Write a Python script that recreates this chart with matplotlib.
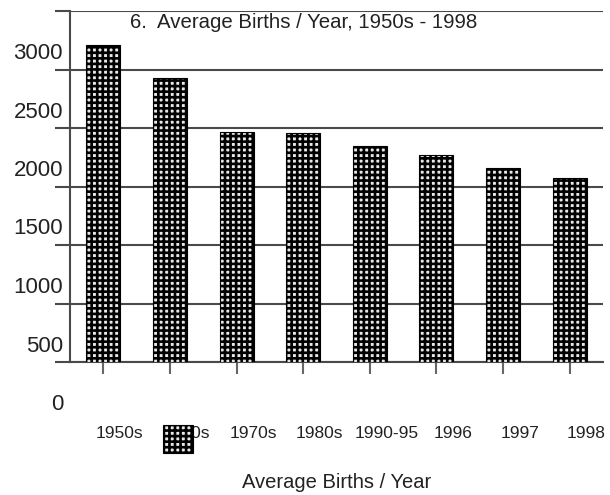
import matplotlib
matplotlib.use("Agg")
import matplotlib.pyplot as plt
from matplotlib.transforms import ScaledTranslation

categories = ["1950s", "1960s", "1970s", "1980s", "1990-95", "1996", "1997", "1998"]
births = [2709, 2427, 1968, 1960, 1846, 1769, 1658, 1573]
yticks = [0, 500, 1000, 1500, 2000, 2500, 3000]
title = "6.  Average Births / Year, 1950s - 1998"
xlabel = "Average Births / Year"

plt.rcParams['font.family'] = ['Liberation Sans', 'DejaVu Sans']
plt.rcParams['hatch.linewidth'] = 1.9

W, H = 610, 495
fig = plt.figure(figsize=(W / 100, H / 100), dpi=100)
ax = fig.add_axes([70 / W, 1 - 362 / H, (603 - 70) / W, (362 - 11) / H])

x = list(range(len(categories)))
bars = ax.bar(x, births, width=0.51, color='#e8e8e8', edgecolor='black',
              hatch='+++', linewidth=0.8, zorder=3)

ax.set_xlim(-0.5, len(categories) - 0.5)
ax.set_ylim(0, 3000)
ax.set_yticks(yticks)
ax.set_yticklabels([str(v) for v in yticks])
ax.set_xticks(x)
ax.set_xticklabels(categories)

gcol = '#4a4a4a'
ax.grid(axis='y', color=gcol, linewidth=1.5, zorder=1)
for s in ['top', 'right']:
    ax.spines[s].set_visible(False)
ax.spines['left'].set_color(gcol)
ax.spines['left'].set_linewidth(1.5)
ax.spines['bottom'].set_color(gcol)
ax.spines['bottom'].set_linewidth(1.5)

ax.tick_params(axis='y', direction='out', length=15 * 0.72, width=1.5,
               color=gcol, pad=-8 * 0.72, labelsize=16, labelcolor='#222222')
ax.tick_params(axis='x', direction='out', length=12 * 0.72, width=1.5,
               color='#666666', pad=52 * 0.72, labelsize=12.5, labelcolor='#222222')

for lab in ax.get_yticklabels():
    lab.set_transform(lab.get_transform() + ScaledTranslation(0, -0.40, fig.dpi_scale_trans))
for lab in ax.get_xticklabels():
    lab.set_transform(lab.get_transform() + ScaledTranslation(0.165, 0, fig.dpi_scale_trans))

fig.text(130 / W, 1 - 22 / H, title, ha='left', va='center', fontsize=14.7, color='#222222')
fig.text(336.5 / W, 1 - 483 / H, xlabel, ha='center', va='center', fontsize=14.5, color='#222222')

ax.legend([bars], [''], loc='upper left', bbox_to_anchor=(163 / W, 1 - 425 / H),
          bbox_transform=fig.transFigure, frameon=False, fontsize=10,
          handlelength=2.16, handleheight=2.7, handletextpad=0, borderpad=0,
          borderaxespad=0)

fig.savefig("out.png", dpi=100)
